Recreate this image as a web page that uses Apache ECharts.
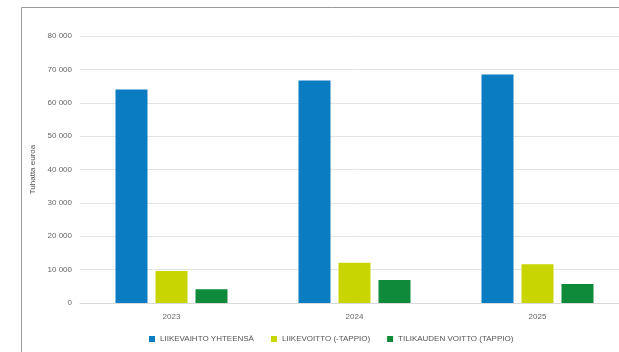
<!DOCTYPE html>
<html><head><meta charset="utf-8">
<script src="https://cdn.jsdelivr.net/npm/echarts@6/dist/echarts.min.js"></script>
<style>html,body{margin:0;padding:0;background:#fff;overflow:hidden}#c{width:640px;height:352px}</style>
</head><body><div id="c"></div>
<script>
const categories = ['2023', '2024', '2025'];
const liikevaihto = [64000, 66700, 68500];
const liikevoitto = [9600, 12050, 11600];
const tilikaudenVoitto = [4100, 6900, 5700];
const seriesNames = ['LIIKEVAIHTO YHTEENSÄ', 'LIIKEVOITTO (-TAPPIO)', 'TILIKAUDEN VOITTO (TAPPIO)'];
const yTicks = { min: 0, max: 80000, interval: 10000 };

const chart = echarts.init(document.getElementById('c'), null, { renderer: 'canvas' });
const fmt = v => String(v).replace(/\B(?=(\d{3})+(?!\d))/g, ' ');
chart.setOption({
  animation: false,
  graphic: [{ type: 'rect', shape: { x: 21.5, y: 7.5, width: 700, height: 400 }, style: { fill: 'none', stroke: '#9a9a9a', lineWidth: 1 }, silent: true, z: -1 }],
  grid: { left: 80, top: 36, right: 11, bottom: 49, containLabel: false },
  legend: {
    bottom: 4, left: 144, itemWidth: 6, itemHeight: 6, itemGap: 17, icon: 'rect',
    textStyle: { color: '#555', fontSize: 8, fontFamily: 'Liberation Sans' },
    data: seriesNames
  },
  xAxis: {
    type: 'category', data: categories,
    axisLine: { lineStyle: { color: '#d9d9d9' } }, axisTick: { show: false },
    axisLabel: { color: '#666', fontSize: 8, margin: 10, fontFamily: 'Liberation Sans' }
  },
  yAxis: {
    type: 'value', min: yTicks.min, max: yTicks.max, interval: yTicks.interval,
    name: 'Tuhatta euroa', nameLocation: 'middle', nameGap: 33, nameRotate: 90,
    nameTextStyle: { color: '#555', fontSize: 8, fontFamily: 'Liberation Sans' },
    axisLine: { show: false }, axisTick: { show: false },
    axisLabel: { color: '#666', fontSize: 8, margin: 8, formatter: fmt, fontFamily: 'Liberation Sans' },
    splitLine: { lineStyle: { color: '#e4e4e4' } }
  },
  series: [
    { name: seriesNames[0], type: 'bar', data: liikevaihto, barWidth: 32, barGap: '25%', itemStyle: { color: '#0a7dc2' } },
    { name: seriesNames[1], type: 'bar', data: liikevoitto, barWidth: 32, itemStyle: { color: '#c9d500' } },
    { name: seriesNames[2], type: 'bar', data: tilikaudenVoitto, barWidth: 32, itemStyle: { color: '#0e8a3a' } }
  ]
});
</script></body></html>
